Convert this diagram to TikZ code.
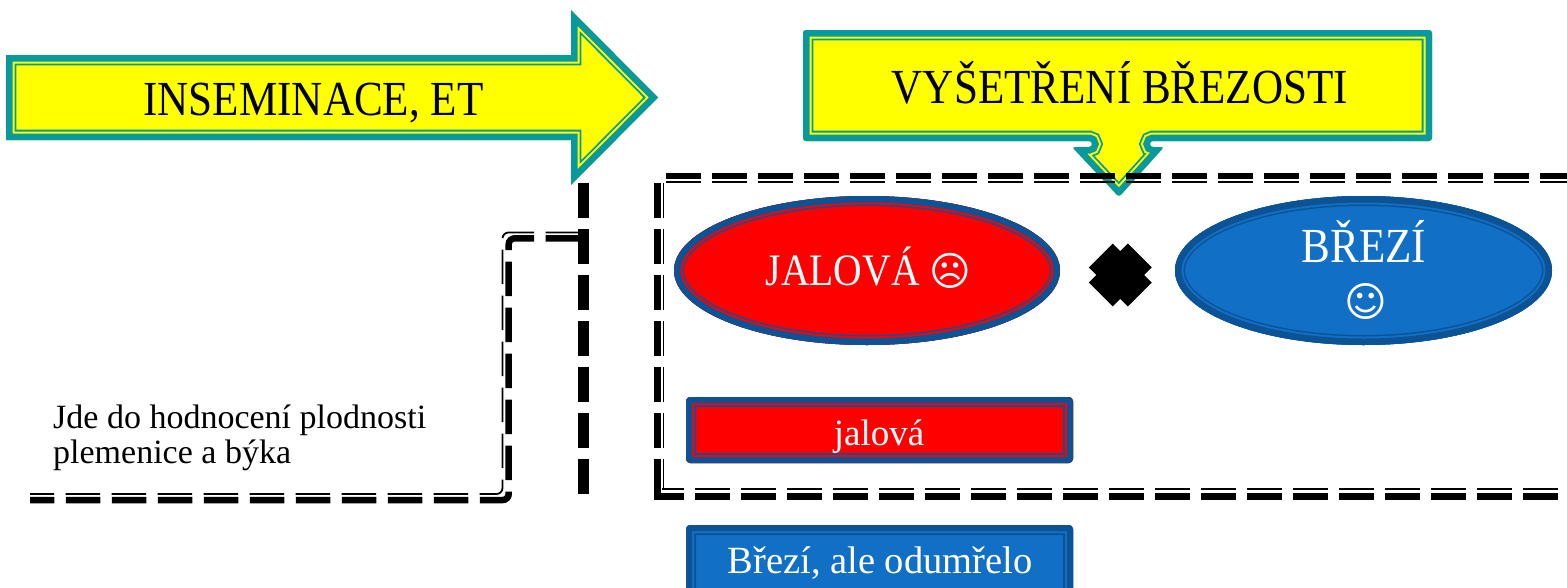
\documentclass[tikz,border=0pt]{standalone}
\usepackage{fontspec}
\setmainfont{Liberation Serif}
\newfontfamily\narrowfont[FakeStretch=0.88]{Liberation Serif}
\newfontfamily\symfont{DejaVu Sans}
\definecolor{cteal}{RGB}{8,153,158}
\definecolor{cyel}{RGB}{255,255,0}
\definecolor{cred}{RGB}{255,0,0}
\definecolor{cdark}{RGB}{12,83,150}
\definecolor{cblue}{RGB}{17,112,197}
% #1 path, #2 ring colour, #3 fill colour, #4 #5 #6 stacked stroke widths
\newcommand{\layered}[6]{%
  \begin{scope}
    \clip #1;
    \fill[#3] #1;
    \draw[#2, line width=#4] #1;
    \draw[#3, line width=#5] #1;
    \draw[#2, line width=#6] #1;
  \end{scope}}
\tikzset{
  thickdash/.style={black, line width=6.5pt, dash pattern=on 34.5pt off 11.5pt},
  thindash/.style={black, line width=1.8pt, dash pattern=on 34.5pt off 11.5pt},
  lbl/.style={inner sep=0pt, anchor=base},
}
\begin{document}
\begin{tikzpicture}[x=1pt,y=-1pt]
\useasboundingbox (0,0) rectangle (1567,587);
\clip (0,0) rectangle (1567,587);

% big arrow
\layered{(6,55) -- (571,55) -- (571,10) -- (658,97.5) -- (571,185) -- (571,140) -- (6,140) -- cycle}{cteal}{cyel}{20.6pt}{17pt}{13pt}

% callout
\layered{[rounded corners=3pt] (803,30) -- (1432,30) -- (1432,141) -- (1150,141) -- (1150,147) -- (1164,147) -- (1119,197) -- (1072,147) -- (1092,147) -- (1092,141) -- (803,141) -- cycle}{cteal}{cyel}{20.6pt}{17pt}{13pt}

% ellipses
\layered{(867,270.5) ellipse [x radius=193pt, y radius=74.5pt]}{cdark}{cred}{20pt}{17pt}{13pt}
\layered{(1363.5,270.5) ellipse [x radius=188.5pt, y radius=74.5pt]}{cdark}{cblue}{20pt}{17pt}{13pt}

% cross
\fill[black, shift={(1120.3,275)}, rotate=45]
  (16.9,27.6) -- (-16.9,27.6) -- (-16.9,16.9) -- (-27.6,16.9) -- (-27.6,-16.9) -- (-16.9,-16.9)
  -- (-16.9,-27.6) -- (16.9,-27.6) -- (16.9,-16.9) -- (27.6,-16.9) -- (27.6,16.9) -- (16.9,16.9) -- cycle;

% boxes
\layered{[rounded corners=4pt] (686,397) rectangle (1073,463)}{cdark}{cred}{20pt}{16pt}{12pt}
\layered{[rounded corners=4pt] (686,525) rectangle (1073,600)}{cdark}{cblue}{20pt}{16pt}{12pt}

% dashed frame on the right
\draw[thickdash] (666,176) -- (1600,176);
\draw[thindash] (666,182) -- (1600,182);
\draw[thickdash] (657.4,183) -- (657.4,494);
\draw[thindash] (663.5,183) -- (663.5,490);
\draw[thickdash, dash phase=5pt] (654,496.5) -- (1600,496.5);
\draw[thindash, dash phase=12.5pt] (661.5,489) -- (1600,489);

% middle vertical
\draw[black, line width=11pt, dash pattern=on 35pt off 11pt] (583,183) -- (583,494);

% left bracket
\draw[thickdash, rounded corners=6pt] (580,238.3) -- (508.7,238.3) -- (508.7,500) -- (30,500);
\draw[thindash, rounded corners=6pt] (580,232.5) -- (502.5,232.5) -- (502.5,494) -- (30,494);

% texts
\node[lbl, font=\narrowfont\fontsize{49}{55}\selectfont] (inse) at (313.5,115) {INSEMINACE, ET};
\node[lbl, font=\narrowfont\fontsize{49}{55}\selectfont] (vys) at (1120,103) {VYŠETŘENÍ BŘEZOSTI};
\node[lbl, text=white, font=\narrowfont\fontsize{45}{50}\selectfont] (jal) at (868.5,285) {JALOVÁ {\symfont\fontsize{40}{40}\selectfont ☹}};
\node[lbl, text=white, font=\narrowfont\fontsize{49}{55}\selectfont] (brz) at (1364,262) {BŘEZÍ};
\node[inner sep=0pt, text=white, font=\symfont\fontsize{41}{41}\selectfont] (smile) at (1366,302) {☺};
\node[lbl, text=white, font=\fontsize{37}{40}\selectfont] (jal2) at (879,445) {jalová};
\node[lbl, text=white, font=\fontsize{38.5}{40}\selectfont] (odu) at (880,573) {Březí, ale odumřelo};
\node[lbl, anchor=base west, font=\fontsize{34}{36}\selectfont] (jde1) at (53,428) {Jde do hodnocení plodnosti};
\node[lbl, anchor=base west, font=\fontsize{34}{36}\selectfont] (jde2) at (53,463) {plemenice a býka};
\end{tikzpicture}
\end{document}
